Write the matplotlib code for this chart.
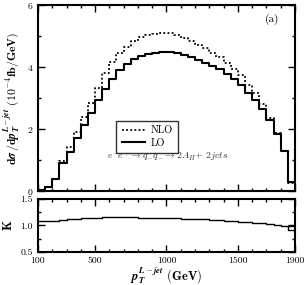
import numpy as np
import matplotlib
matplotlib.use("Agg")
from matplotlib import pyplot as plt
from matplotlib.ticker import MultipleLocator, FixedLocator

plt.rcParams['mathtext.fontset'] = 'cm'
plt.rcParams['font.family'] = 'cmr10'
plt.rcParams['axes.formatter.use_mathtext'] = True

# bins of 50 GeV from 100 to 1900
edges = np.arange(100, 1901, 50)

lo = [0.03, 0.12, 0.37, 0.91, 1.27, 1.72, 2.13, 2.52, 2.94, 3.28, 3.60, 3.90,
      4.10, 4.27, 4.35, 4.42, 4.46, 4.48, 4.48, 4.44, 4.39, 4.31, 4.23, 4.14,
      4.04, 3.92, 3.78, 3.60, 3.42, 3.17, 2.94, 2.64, 2.29, 1.83, 1.29, 0.28]

nlo = [0.03, 0.13, 0.40, 0.97, 1.43, 1.90, 2.40, 2.85, 3.33, 3.80, 4.15, 4.45,
       4.65, 4.83, 4.95, 5.02, 5.06, 5.09, 5.10, 5.03, 4.92, 4.82, 4.71, 4.60,
       4.44, 4.31, 4.14, 3.92, 3.74, 3.42, 3.15, 2.80, 2.35, 1.86, 1.30, 0.27]

k = [1.08, 1.085, 1.09, 1.10, 1.115, 1.125, 1.135, 1.14, 1.145, 1.15, 1.15, 1.15,
     1.15, 1.15, 1.145, 1.145, 1.14, 1.14, 1.14, 1.135, 1.13, 1.125, 1.12, 1.115,
     1.11, 1.10, 1.09, 1.08, 1.07, 1.06, 1.05, 1.04, 1.03, 1.015, 0.98, 0.91]

xticks = [100, 500, 1000, 1500, 1900]


def steps(vals):
    return np.append(vals, vals[-1])


fig = plt.figure(figsize=(3.06, 2.85), dpi=100)
ax = fig.add_axes([0.124, 0.330, 0.840, 0.653])
axk = fig.add_axes([0.124, 0.116, 0.840, 0.186])

# top panel
ax.step(edges, steps(nlo), where='post', color='black', lw=1.3, ls=(0, (1, 1.3)), label='NLO')
ax.step(edges, steps(lo), where='post', color='black', lw=1.5, label='LO')
ax.set_xlim(100, 1900)
ax.set_ylim(0, 6)

# K panel
axk.step(edges, steps(k), where='post', color='black', lw=1.0)
axk.plot([edges[-2], edges[-1]], [k[-2], k[-2]], color='black', lw=1.0)
axk.set_xlim(100, 1900)
axk.set_ylim(0.5, 1.5)

for a in (ax, axk):
    a.xaxis.set_major_locator(FixedLocator(xticks))
    a.xaxis.set_minor_locator(MultipleLocator(100))
    a.tick_params(which='both', direction='in', top=True, right=True, labelsize=7)
    a.tick_params(which='major', length=5, width=1)
    a.tick_params(which='minor', length=2.5, width=1)
    for s in a.spines.values():
        s.set_linewidth(1.5)

ax.yaxis.set_major_locator(MultipleLocator(2))
ax.yaxis.set_minor_locator(MultipleLocator(1))
ax.tick_params(labelbottom=False)
axk.yaxis.set_major_locator(FixedLocator([0.5, 1.0, 1.5]))
axk.yaxis.set_minor_locator(FixedLocator([0.75, 1.25]))
axk.set_yticklabels(['0.5', '1.0', '1.5'])
axk.set_xticklabels([str(t) for t in xticks])

ax.set_ylabel(r'$\mathbf{d}\boldsymbol{\sigma}\,\mathbf{/d}\boldsymbol{p}_{\boldsymbol{T}}^{\boldsymbol{L-jet}}\ \mathbf{(10^{-4}fb/GeV)}$',
              fontsize=8.5, labelpad=4)
axk.set_ylabel(r'$\mathbf{K}$', fontsize=9, labelpad=4)
axk.set_xlabel(r'$\boldsymbol{p}_{\boldsymbol{T}}^{\boldsymbol{L-jet}}\ \mathbf{(GeV)}$', fontsize=9, labelpad=0)
fig.align_ylabels([ax, axk])

leg = ax.legend(loc='upper left', bbox_to_anchor=(0.285, 0.405), fontsize=7.5,
                frameon=True, fancybox=False, edgecolor='black', handlelength=2.2,
                borderpad=0.5, labelspacing=0.3, handletextpad=0.6)
leg.get_frame().set_linewidth(1.0)

ax.text(0.27, 0.185, r'$e^{-}e^{+}\rightarrow q_{-}\bar{q}_{-}\rightarrow 2A_H\!+\,2jets$',
        transform=ax.transAxes, fontsize=7, va='center', ha='left', color='#333333')
ax.text(0.94, 0.92, '(a)', transform=ax.transAxes, fontsize=8, ha='right', va='center')

fig.savefig('out.png', dpi=100)
